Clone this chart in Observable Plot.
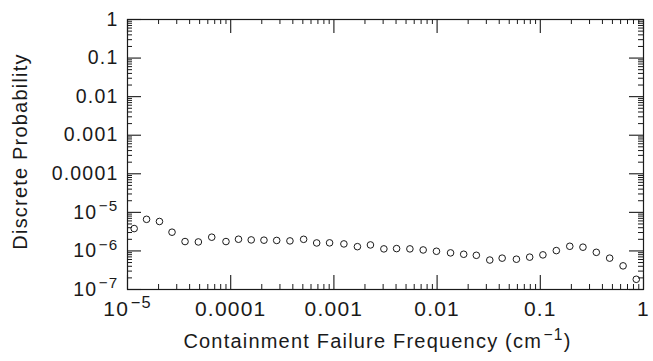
<!DOCTYPE html>
<html><head><meta charset="utf-8">
<script src="https://cdn.jsdelivr.net/npm/d3@7"></script>
<script src="https://cdn.jsdelivr.net/npm/@observablehq/plot@0.6"></script>
<style>
html,body{margin:0;padding:0;background:#fff;}
#chart svg{display:block;}
</style>
</head><body><div id="chart"></div>
<script>
// ---- data ----
const frequency = [1.16e-5, 1.53e-5, 2.04e-5, 2.70e-5, 3.61e-5, 4.86e-5, 6.55e-5, 9.0e-5,
  1.19e-4, 1.58e-4, 2.10e-4, 2.79e-4, 3.75e-4, 5.09e-4, 6.81e-4, 9.08e-4,
  1.25e-3, 1.69e-3, 2.26e-3, 3.05e-3, 4.05e-3, 5.45e-3, 7.33e-3, 9.86e-3,
  1.35e-2, 1.81e-2, 2.40e-2, 3.24e-2, 4.27e-2, 5.87e-2, 7.89e-2,
  0.106, 0.143, 0.193, 0.259, 0.349, 0.47, 0.634, 0.851];
const probability = [3.8e-6, 6.6e-6, 5.8e-6, 3.06e-6, 1.75e-6, 1.71e-6, 2.27e-6, 1.75e-6,
  2.01e-6, 1.93e-6, 1.9e-6, 1.87e-6, 1.82e-6, 2.0e-6, 1.61e-6, 1.62e-6,
  1.52e-6, 1.29e-6, 1.43e-6, 1.13e-6, 1.15e-6, 1.13e-6, 1.06e-6, 9.8e-7,
  8.9e-7, 8.2e-7, 7.7e-7, 5.8e-7, 6.5e-7, 6.1e-7, 6.9e-7,
  7.9e-7, 1.02e-6, 1.32e-6, 1.25e-6, 9.2e-7, 6.5e-7, 4.1e-7, 1.84e-7];
const xTickValues = [1e-5, 1e-4, 1e-3, 1e-2, 1e-1, 1];
const xTickLabels = ["10^−5", "0.0001", "0.001", "0.01", "0.1", "1"];
const yTickValues = [1e-7, 1e-6, 1e-5, 1e-4, 1e-3, 1e-2, 1e-1, 1];
const yTickLabels = ["10^−7", "10^−6", "10^−5", "0.0001", "0.001", "0.01", "0.1", "1"];
const xTitle = "Containment Failure Frequency (cm^−1|)";
const yTitle = "Discrete Probability";

// ---- layout ----
const W = 653, H = 361, mL = 127, mR = 10, mT = 19, mB = 72;
const fw = W - mL - mR, fh = H - mT - mB;

function minorTicks(values) {
  const out = [];
  for (let i = 0; i < values.length - 1; i++)
    for (let k = 2; k <= 9; k++) out.push(values[i] * k);
  return out;
}
const xMinor = minorTicks(xTickValues);
const yMinor = minorTicks(yTickValues);

const points = frequency.map((f, i) => ({f, p: probability[i]}));
const ink = "#1a1a1a";

const chart = Plot.plot({
  width: W, height: H,
  marginLeft: mL, marginRight: mR, marginTop: mT, marginBottom: mB,
  style: {fontFamily: "'Liberation Sans', Arial, sans-serif", background: "#fff", color: ink},
  x: {type: "log", domain: [1e-5, 1]},
  y: {type: "log", domain: [1e-7, 1]},
  marks: [
    Plot.frame({stroke: ink, strokeWidth: 1.2}),
    // major ticks, inward on all four sides
    Plot.tickX(xTickValues, {x: d => d, insetTop: fh - 14, stroke: ink, strokeWidth: 1.1}),
    Plot.tickX(xTickValues, {x: d => d, insetBottom: fh - 14, stroke: ink, strokeWidth: 1.1}),
    Plot.tickY(yTickValues, {y: d => d, insetRight: fw - 14, stroke: ink, strokeWidth: 1.1}),
    Plot.tickY(yTickValues, {y: d => d, insetLeft: fw - 14, stroke: ink, strokeWidth: 1.1}),
    // minor ticks
    Plot.tickX(xMinor, {x: d => d, insetTop: fh - 5, stroke: ink, strokeWidth: 1}),
    Plot.tickX(xMinor, {x: d => d, insetBottom: fh - 5, stroke: ink, strokeWidth: 1}),
    Plot.tickY(yMinor, {y: d => d, insetRight: fw - 5, stroke: ink, strokeWidth: 1}),
    Plot.tickY(yMinor, {y: d => d, insetLeft: fw - 5, stroke: ink, strokeWidth: 1}),
    // tick labels
    Plot.axisX({ticks: xTickValues, tickSize: 0, tickPadding: 12, label: null,
      tickFormat: d => xTickLabels[xTickValues.indexOf(d)], fontSize: 21}),
    Plot.axisY({ticks: yTickValues, tickSize: 0, tickPadding: 9, label: null,
      tickFormat: d => yTickLabels[yTickValues.indexOf(d)], fontSize: 19.5}),
    // data
    Plot.dot(points, {x: "f", y: "p", r: 3.3, stroke: ink, strokeWidth: 1, fill: "none"}),
    // titles
    Plot.text([xTitle], {frameAnchor: "bottom", dx: -8, dy: 58, fontSize: 20, fill: ink}),
    Plot.text([yTitle], {frameAnchor: "left", dx: -107, dy: -3, rotate: -90, textAnchor: "middle", fontSize: 20, fill: ink})
  ]
});

// render "^" exponents as raised, smaller tspans ("|" ends the exponent)
d3.select(chart).selectAll("text").each(function () {
  const nodes = this.querySelectorAll("tspan").length ? Array.from(this.querySelectorAll("tspan")) : [this];
  nodes.forEach(node => {
    const s = node.textContent;
    if (!s.includes("^")) return;
    const [base, rest] = s.split("^");
    const [exp, tail] = rest.split("|");
    const n = d3.select(node);
    n.text(null);
    n.append("tspan").text(base);
    n.append("tspan").attr("dy", "-0.5em").attr("font-size", "0.78em").attr("dx", "0.1em").text(exp);
    if (tail !== undefined) n.append("tspan").attr("dy", "0.39em").text(tail);
  });
});
d3.select(chart).selectAll("text").style("letter-spacing", "1.2px");
document.getElementById("chart").appendChild(chart);
</script>
</body></html>
